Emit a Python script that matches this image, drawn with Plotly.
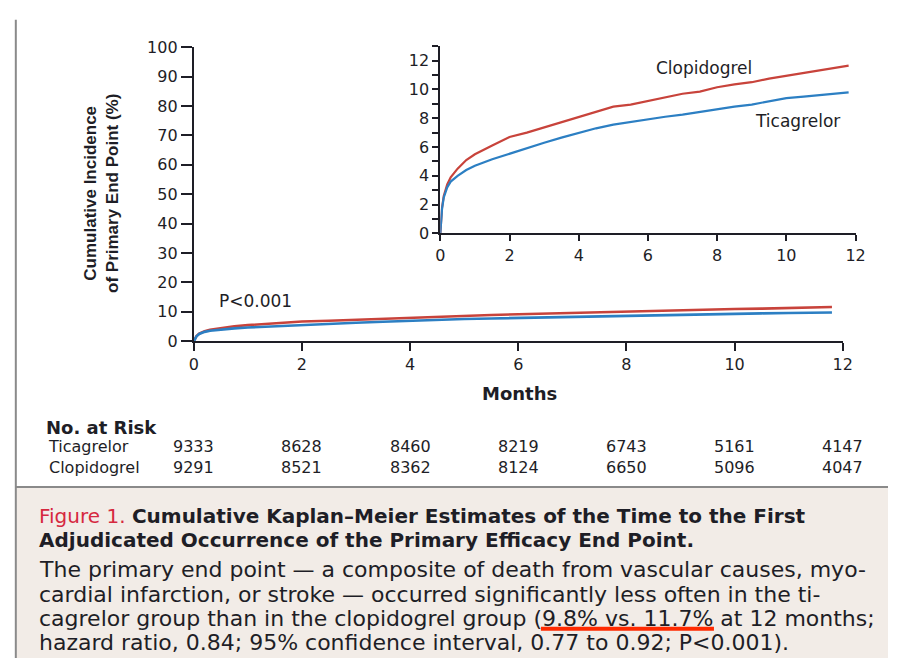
import plotly.graph_objects as go

W, H = 898, 668

# Kaplan-Meier cumulative incidence (%) by month
months = [0, 0.02, 0.05, 0.1, 0.2, 0.3, 0.5, 0.75, 1, 1.5, 2, 2.5, 3, 3.5, 4, 4.5,
          5, 5.5, 6, 6.5, 7, 7.5, 8, 8.5, 9, 9.5, 10, 10.5, 11, 11.5, 11.8]
clopidogrel = [0, 0.8, 1.8, 2.6, 3.4, 3.9, 4.5, 5.1, 5.5, 6.1, 6.7, 7.0, 7.35, 7.7, 8.05, 8.45,
               8.8, 8.95, 9.2, 9.45, 9.7, 9.85, 10.15, 10.35, 10.5, 10.75, 10.95, 11.1, 11.35, 11.5, 11.65]
ticagrelor = [0, 0.7, 1.7, 2.5, 3.2, 3.6, 4.0, 4.4, 4.7, 5.15, 5.55, 5.95, 6.3, 6.65, 7.0, 7.3,
              7.55, 7.75, 7.95, 8.1, 8.25, 8.45, 8.65, 8.8, 8.95, 9.2, 9.4, 9.5, 9.6, 9.7, 9.8]

# Number at risk table
risk_groups = ["Ticagrelor", "Clopidogrel"]
risk_months = [0, 2, 4, 6, 8, 10, 12]
risk_ticagrelor = [9333, 8628, 8460, 8219, 6743, 5161, 4147]
risk_clopidogrel = [9291, 8521, 8362, 8124, 6650, 5096, 4047]

RED = "#c8433b"
BLUE = "#2c7fc3"
INK = "#1e1e26"
FONT = "DejaVu Sans"


def px_x(p):
    return p / W


def px_y(p):
    return 1 - p / H


fig = go.Figure()

for name, ys, col in [("Clopidogrel", clopidogrel, RED), ("Ticagrelor", ticagrelor, BLUE)]:
    fig.add_trace(go.Scatter(x=months, y=ys, mode="lines", line=dict(color=col, width=2.6),
                             name=name, xaxis="x", yaxis="y", showlegend=False))
    fig.add_trace(go.Scatter(x=months, y=ys, mode="lines", line=dict(color=col, width=2.2),
                             name=name, xaxis="x2", yaxis="y2", showlegend=False))

axis_common = dict(showline=True, linecolor=INK, linewidth=2, showgrid=False, zeroline=False,
                   ticks="outside", tickcolor=INK, tickwidth=2,
                   tickfont=dict(family=FONT, size=16, color=INK))

fig.update_layout(
    width=W, height=H, margin=dict(l=0, r=0, t=0, b=0),
    paper_bgcolor="white", plot_bgcolor="rgba(0,0,0,0)",
    xaxis=dict(axis_common, domain=[px_x(192), px_x(852)], range=[0, 12], tickvals=[0, 2, 4, 6, 8, 10, 12],
               ticklen=8, anchor="y"),
    yaxis=dict(axis_common, domain=[px_y(342), px_y(39.3)], range=[0, 100],
               tickvals=list(range(0, 101, 10)), ticklen=11, anchor="x"),
    xaxis2=dict(axis_common, domain=[px_x(442.7), px_x(865)], range=[0, 12], tickvals=[0, 2, 4, 6, 8, 10, 12],
                ticklen=6, anchor="y2"),
    yaxis2=dict(axis_common, domain=[px_y(231), px_y(38.3)], range=[0, 13],
                tickvals=[0, 2, 4, 6, 8, 10, 12], ticktext=["0", "2", "4", "6", "8", "10", "12"], ticklen=6,
                minor=dict(tickvals=list(range(0, 14)), ticks="outside", ticklen=6, tickcolor=INK, tickwidth=1.5),
                anchor="x2"),
)


def label(x, ypx, text, size, xref="paper", xanchor="center", family=FONT, **kw):
    # ypx is the visual centre line of the text, in pixels from the top
    return dict(x=x, y=px_y(ypx + 0.25 * size), xref=xref, yref="paper", text=text, xanchor=xanchor,
                yanchor="middle", showarrow=False, font=dict(family=family, size=size, color=INK), **kw)


ann = []
# axis titles
ann.append(label(px_x(523), 391, "<b>Months</b>", 18))
ann.append(dict(x=px_x(98), y=px_y(190), xref="paper", yref="paper",
                text="<b>Cumulative Incidence<br>of Primary End Point (%)</b>", textangle=-90,
                xanchor="center", yanchor="middle", showarrow=False,
                font=dict(family="Liberation Sans Narrow, Liberation Sans", size=17, color=INK)))
ann.append(label(0.42, 296, "P<0.001", 17, xref="x", xanchor="left"))
# inset series labels
ann.append(label(px_x(711), 56, "Clopidogrel", 17))
ann.append(label(px_x(806), 111, "Ticagrelor", 17))

# number at risk: one two-row block per column
ann.append(label(px_x(40), 426, "<b>No. at Risk</b>", 18, xanchor="left"))
ann.append(label(px_x(42), 457.5, "<br>".join(risk_groups), 16, xanchor="left", align="left"))
for m, a, b in zip(risk_months, risk_ticagrelor, risk_clopidogrel):
    ann.append(label(m, 457.5, f"{a}<br>{b}", 16, xref="x"))

# caption
ann.append(label(px_x(33), 517,
                 "<span style='color:#d6283f'>Figure 1.</span> <b>Cumulative Kaplan\u2013Meier Estimates of the Time to the First</b>",
                 20, xanchor="left"))
ann.append(label(px_x(33), 542, "<b>Adjudicated Occurrence of the Primary Efficacy End Point.</b>", 20,
                 xanchor="left"))
body = [
    "The primary end point \u2014 a composite of death from vascular causes, myo-",
    "cardial infarction, or stroke \u2014 occurred significantly less often in the ti-",
    "cagrelor group than in the clopidogrel group (9.8% vs. 11.7% at 12 months;",
    "hazard ratio, 0.84; 95% confidence interval, 0.77 to 0.92; P<0.001).",
]
for line, ypx in zip(body, [571, 597, 622, 647]):
    ann.append(label(px_x(33), ypx, line, 22, xanchor="left"))

shapes = [
    dict(type="rect", xref="paper", yref="paper", x0=px_x(11), x1=1, y0=0, y1=px_y(492),
         fillcolor="#f2ece7", line=dict(width=0), layer="below"),
    dict(type="line", xref="paper", yref="paper", x0=px_x(11), x1=1, y0=px_y(492), y1=px_y(492),
         line=dict(color="#8a8a8a", width=2)),
    dict(type="line", xref="paper", yref="paper", x0=px_x(11), x1=px_x(11), y0=0, y1=px_y(11),
         line=dict(color="#8a8a8a", width=2)),
    dict(type="line", xref="paper", yref="paper", x0=px_x(545), x1=px_x(721), y0=px_y(638), y1=px_y(638),
         line=dict(color="#ff2a00", width=4)),
]

fig.update_layout(annotations=ann, shapes=shapes)
fig.write_html("out.html")
